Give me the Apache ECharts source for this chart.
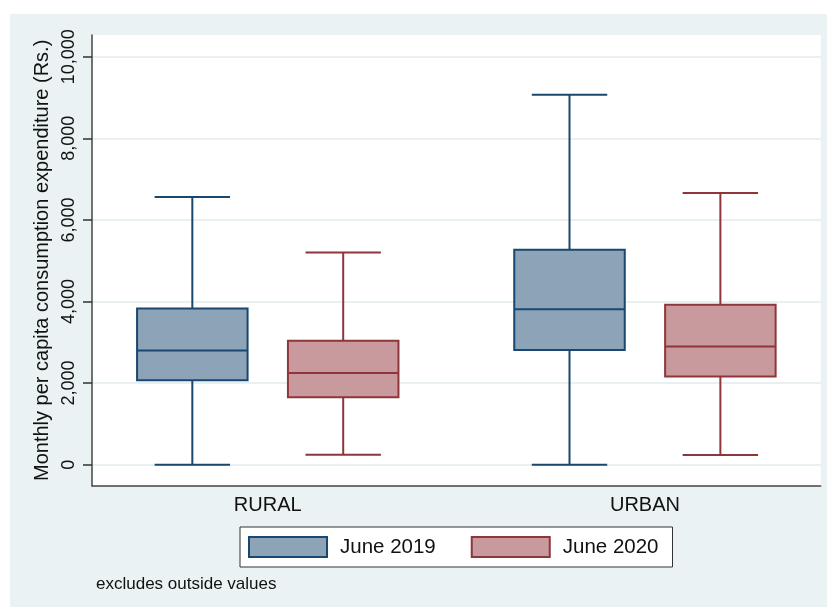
<!DOCTYPE html>
<html>
<head>
<meta charset="utf-8">
<script src="https://cdn.jsdelivr.net/npm/echarts@6/dist/echarts.min.js"></script>
<style>
    html, body { margin: 0; padding: 0; background: #fff; }
    #chart { position: absolute; left: 10px; top: 14px; width: 817px; height: 593px; }
</style>
</head>
<body>
<div id="chart"></div>
<script>
// groups along the x axis
const groups = ['RURAL', 'URBAN'];
// per group: [lower whisker, Q1, median, Q3, upper whisker]
const june2019 = [
    [0, 2070, 2800, 3830, 6560],
    [0, 2810, 3810, 5270, 9070]
];
const june2020 = [
    [245, 1655, 2250, 3035, 5200],
    [240, 2160, 2895, 3920, 6660]
];
const yTicks = [0, 2000, 4000, 6000, 8000, 10000];

const FONT = '"Liberation Sans", Arial, sans-serif';
const fill19 = '#8da3b7', stroke19 = '#1a476f';
const fill20 = '#c89a9d', stroke20 = '#90353b';

// box drawn through the axes; widths are in x-axis units
function boxRenderer(fill, stroke) {
    return function (params, api) {
        const x = api.value(0);
        const lo = api.coord([x, api.value(1)]);
        const q1 = api.coord([x, api.value(2)]);
        const med = api.coord([x, api.value(3)]);
        const q3 = api.coord([x, api.value(4)]);
        const hi = api.coord([x, api.value(5)]);
        const boxW = api.size([0.293, 0])[0];
        const capW = api.size([0.2, 0])[0];
        const cx = med[0];
        const line = (x1, y1, x2, y2) => ({
            type: 'line',
            shape: { x1, y1, x2, y2 },
            style: { stroke, lineWidth: 2 }
        });
        return {
            type: 'group',
            children: [
                line(cx, q3[1], cx, hi[1]),
                line(cx, q1[1], cx, lo[1]),
                line(cx - capW / 2, hi[1], cx + capW / 2, hi[1]),
                line(cx - capW / 2, lo[1], cx + capW / 2, lo[1]),
                {
                    type: 'rect',
                    shape: { x: cx - boxW / 2, y: q3[1], width: boxW, height: q1[1] - q3[1] },
                    style: { fill, stroke, lineWidth: 2 }
                },
                line(cx - boxW / 2, med[1], cx + boxW / 2, med[1])
            ]
        };
    };
}

const chart = echarts.init(document.getElementById('chart'));
chart.setOption({
    animation: false,
    backgroundColor: '#eaf2f3',
    grid: {
        left: 82, right: 6.3, top: 21, bottom: 121.3,
        show: true, backgroundColor: '#fff', borderWidth: 0
    },
    xAxis: {
        type: 'value',
        min: 0.534,
        max: 2.466,
        axisLine: { show: true, onZero: false, lineStyle: { color: '#444', width: 1.5 } },
        axisTick: { show: false },
        splitLine: { show: false },
        axisLabel: {
            customValues: [1, 2],
            formatter: v => groups[Math.round(v) - 1] || '',
            margin: 10,
            fontFamily: FONT, fontSize: 20, color: '#111'
        }
    },
    yAxis: {
        type: 'value',
        min: -515,
        max: 10532,
        name: 'Monthly per capita consumption expenditure (Rs.)',
        nameLocation: 'middle',
        nameGap: 40,
        nameTextStyle: { fontFamily: FONT, fontSize: 20, color: '#111' },
        axisLine: { show: true, onZero: false, lineStyle: { color: '#444', width: 1.5 } },
        axisTick: { show: true, customValues: yTicks, length: 9, lineStyle: { color: '#333', width: 1.5 } },
        axisLabel: {
            customValues: yTicks,
            rotate: 90,
            margin: 14,
            formatter: v => v.toLocaleString('en-US'),
            fontFamily: FONT, fontSize: 18, color: '#111'
        },
        splitLine: { show: true, lineStyle: { color: '#e8f0f2', width: 2 } }
    },
    legend: {
        left: 230, top: 513,
        padding: [9, 14, 9, 8],
        itemWidth: 78, itemHeight: 20, itemGap: 35,
        borderColor: '#333', borderWidth: 1, backgroundColor: '#fff',
        selectedMode: false,
        textStyle: { fontFamily: FONT, fontSize: 20.5, color: '#111', padding: [0, 0, 0, 8] },
        data: [
            { name: 'June 2019', icon: 'rect', itemStyle: { color: fill19, borderColor: stroke19, borderWidth: 2 } },
            { name: 'June 2020', icon: 'rect', itemStyle: { color: fill20, borderColor: stroke20, borderWidth: 2 } }
        ]
    },
    graphic: [{
        type: 'text',
        left: 86, top: 562,
        style: { text: 'excludes outside values', fontFamily: FONT, fontSize: 17, fill: '#111' }
    }],
    series: [
        {
            name: 'June 2019',
            type: 'custom',
            renderItem: boxRenderer(fill19, stroke19),
            itemStyle: { color: fill19, borderColor: stroke19 },
            encode: { x: 0, y: [1, 2, 3, 4, 5] },
            data: june2019.map((d, i) => [i + 1 - 0.2].concat(d))
        },
        {
            name: 'June 2020',
            type: 'custom',
            renderItem: boxRenderer(fill20, stroke20),
            itemStyle: { color: fill20, borderColor: stroke20 },
            encode: { x: 0, y: [1, 2, 3, 4, 5] },
            data: june2020.map((d, i) => [i + 1 + 0.2].concat(d))
        }
    ]
});
</script>
</body>
</html>
